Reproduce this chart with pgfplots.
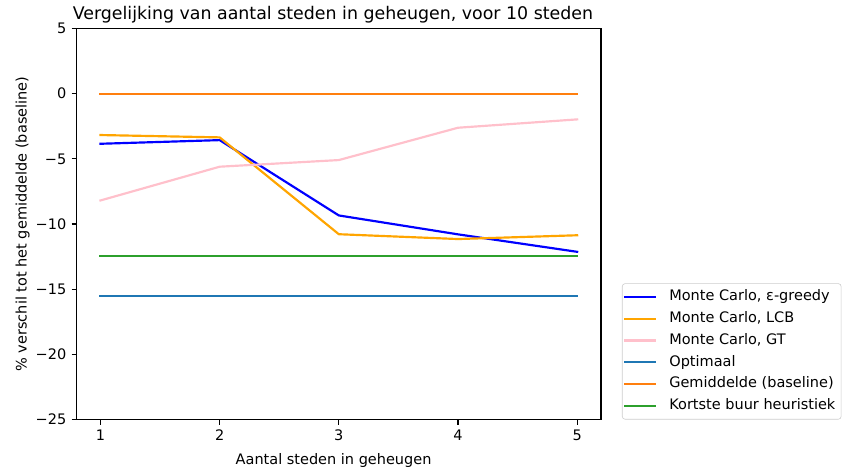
\documentclass[border=0pt]{standalone}
\usepackage{fontspec}
\setmainfont{DejaVu Sans}
\usepackage{pgfplots}
\pgfplotsset{compat=1.18}

\definecolor{tabblue}{HTML}{1F77B4}
\definecolor{taborange}{HTML}{FF7F0E}
\definecolor{tabgreen}{HTML}{2CA02C}
\definecolor{mcblue}{RGB}{0,0,255}
\definecolor{mcorange}{RGB}{255,165,0}
\definecolor{mcpink}{RGB}{255,192,203}

\begin{document}
\begin{tikzpicture}
\path[use as bounding box] (0,0) rectangle (581pt,324.3pt);
\begin{axis}[
  at={(52.9pt,34.8pt)}, anchor=south west,
  scale only axis,
  width=361.8pt, height=269.8pt,
  xmin=0.8, xmax=5.2,
  ymin=-25, ymax=5,
  xtick={1,2,3,4,5},
  xticklabels={1,2,3,4,5},
  ytick={-25,-20,-15,-10,-5,0,5},
  yticklabels={−25,−20,−15,−10,−5,0,5},
  tick align=outside,
  major tick length=3.5pt,
  tick style={line width=0.8pt, black},
  xtick pos=bottom, ytick pos=left,
  axis line style={line width=0.8pt, black},
  every tick label/.append style={font=\fontsize{10}{12}\selectfont},
  xticklabel style={inner sep=0pt, anchor=north, yshift=-3.5pt},
  yticklabel style={inner sep=0pt, anchor=east, xshift=-3.5pt},
  title={Vergelijking van aantal steden in geheugen, voor 10 steden},
  every axis title/.style={at={(axis description cs:0.4888,1)}, anchor=base,
    yshift=6pt, inner sep=0pt, font=\fontsize{12}{14.4}\selectfont},
  xlabel={Aantal steden in geheugen},
  every axis x label/.style={at={(axis description cs:0.490,0)}, anchor=base,
    yshift=-30.7pt, inner sep=0pt, font=\fontsize{10}{12}\selectfont},
  ylabel={\% verschil tot het gemiddelde (baseline)},
  every axis y label/.style={at={(axis description cs:-0.0954,0.5)}, rotate=90,
    anchor=base, inner sep=0pt, font=\fontsize{10}{12}\selectfont},
  legend style={at={(1.04,0)}, anchor=south west,
    draw=black!20, rounded corners=2pt, fill=white,
    font=\fontsize{10}{12}\selectfont,
    inner xsep=1.5pt, inner ysep=1.5pt, column sep=7pt, row sep=0pt,
    nodes={inner xsep=2.5pt, inner ysep=2.5pt, text height=7.6pt, text depth=2.5pt}},
  legend cell align=left,
  legend image code/.code={\draw[#1, line width=1.5pt, line cap=rect] (0pt,0pt) -- (20pt,0pt);},
  every axis plot/.append style={line width=1.5pt, line cap=rect, line join=round},
]
% Monte Carlo variants
\addplot[mcblue] coordinates {(1,-3.84) (2,-3.56) (3,-9.34) (4,-10.79) (5,-12.13)};
\addlegendentry{Monte Carlo, ε-greedy}
\addplot[mcorange] coordinates {(1,-3.17) (2,-3.35) (3,-10.78) (4,-11.15) (5,-10.86)};
\addlegendentry{Monte Carlo, LCB}
\addplot[mcpink] coordinates {(1,-8.19) (2,-5.60) (3,-5.09) (4,-2.61) (5,-1.97)};
\addlegendentry{Monte Carlo, GT}
% Reference levels
\addplot[tabblue] coordinates {(1,-15.53) (2,-15.53) (3,-15.53) (4,-15.53) (5,-15.53)};
\addlegendentry{Optimaal}
\addplot[taborange] coordinates {(1,0) (2,0) (3,0) (4,0) (5,0)};
\addlegendentry{Gemiddelde (baseline)}
\addplot[tabgreen] coordinates {(1,-12.42) (2,-12.42) (3,-12.42) (4,-12.42) (5,-12.42)};
\addlegendentry{Kortste buur heuristiek}
\end{axis}
\end{tikzpicture}
\end{document}
